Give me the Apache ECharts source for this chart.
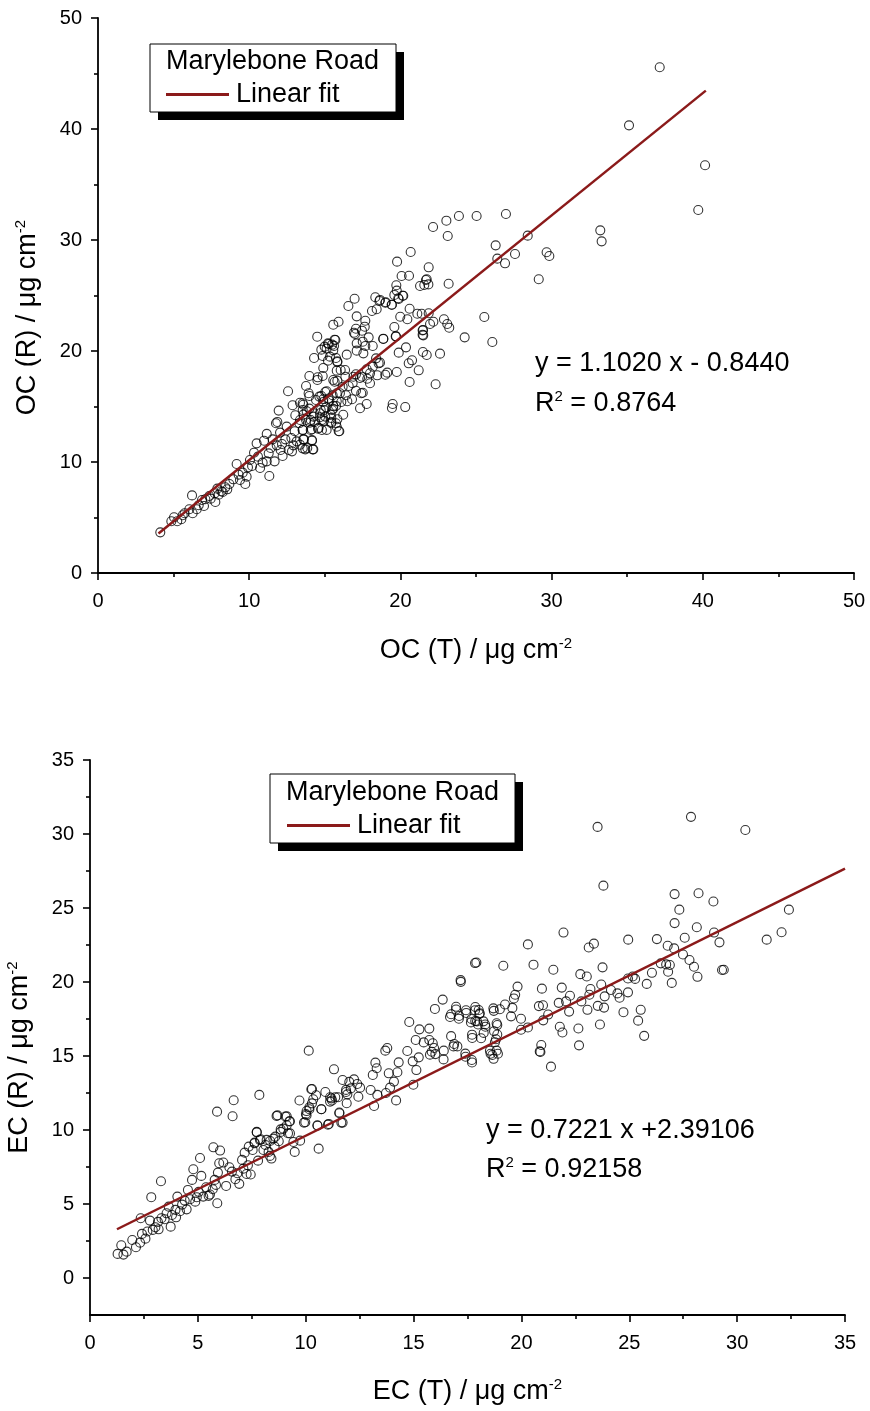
<!DOCTYPE html>
<html>
<head>
<meta charset="utf-8">
<script src="https://cdn.jsdelivr.net/npm/echarts@6/dist/echarts.min.js"></script>
<style>
  html, body { margin: 0; padding: 0; background: #fff; }
  #chart { width: 870px; height: 1411px; }
</style>
</head>
<body>
<div id="chart"></div>
<script>
// OC: thermal (T) vs reflectance (R) organic carbon, µg cm-2
const ocPoints = [
  [4.12,3.66],[4.85,4.66],[5.03,5.02],[5.24,4.66],[5.51,4.84],[5.6,5.2],[5.73,5.38],[6.04,5.74],[6.22,6.99],[6.26,5.38],
  [6.53,5.74],[6.66,6.10],[6.88,6.58],[7.01,6.04],[7.10,6.64],[7.36,6.94],[7.45,6.70],[7.72,7.18],[7.76,6.40],[7.89,7.60],
  [7.98,7.06],[8.16,7.36],[8.25,7.30],[8.42,7.72],[8.55,7.54],[8.69,8.02],[8.95,8.44],[9.17,9.82],[9.30,8.86],[9.39,8.38],
  [9.57,9.04],[9.74,8.02],[9.83,8.68],[9.92,9.52],[10.05,10.18],[10.19,9.64],[10.32,10.84],[10.49,11.68],[10.58,10.48],[10.72,9.46],
  [10.89,9.94],[10.98,11.92],[11.16,10.06],[11.16,12.53],[11.29,10.78],[11.33,8.74],[11.42,11.26],[11.55,12.04],[11.68,10.06],[11.77,13.49],
  [11.82,11.50],[11.86,13.61],[11.95,14.63],[12.04,12.65],[12.08,11.08],[12.17,11.62],[12.21,10.54],[12.39,12.04],[12.48,13.19],[12.57,16.37],
  [12.61,11.08],[12.79,12.16],[12.83,10.96],[12.87,15.11],[12.92,11.50],[13.01,12.77],[13.05,14.21],[13.14,11.86],[13.32,13.49],[13.36,11.56],
  [13.54,15.29],[13.54,12.89],[13.58,14.27],[13.62,12.04],[13.71,11.14],[13.76,16.85],[13.93,16.19],[13.98,14.81],[14.02,13.55],[14.07,12.89],
  [14.15,11.92],[14.20,11.14],[14.24,14.09],[14.33,13.61],[14.42,15.59],[14.51,17.39],[14.59,13.07],[14.68,14.39],[14.77,15.95],[14.81,13.79],
  [14.90,15.41],[14.95,14.69],[15.03,14.09],[15.12,12.89],[15.26,15.71],[15.39,14.27],[15.43,13.61],[15.56,17.39],[15.56,15.05],[15.79,16.19],
  [15.83,13.85],[15.92,12.77],
  [14.50,21.29],[15.65,21.02],[15.26,20.63],[15.48,20.57],[14.77,20.12],[15.12,20.21],[15.56,20.06],[14.29,19.37],[14.86,19.55],[15.34,19.49],
  [15.21,19.13],[15.83,19.07],[15.74,19.37],[17.00,21.53],[17.46,21.83],[17.90,21.23],[17.11,20.69],[17.51,20.84],[17.68,20.45],[18.17,20.45],
  [17.11,20.03],[17.55,19.79],[16.45,19.67],[18.87,21.11],[19.71,21.32],[21.47,21.47],[21.50,21.89],[24.25,21.23],[26.08,20.81],[20.37,20.33],
  [19.89,19.85],[21.49,19.91],[21.74,19.64],[22.62,19.76],[18.39,19.34],[18.56,18.89],[18.17,18.59],[20.77,19.16],[20.55,18.89],[17.77,18.35],
  [17.99,17.99],[17.46,17.68],[17.81,17.50],[17.99,17.09],[18.47,17.81],[19.13,18.05],[19.76,18.11],[19.00,17.86],[21.21,18.26],[20.61,17.21],
  [22.33,17.00],[16.05,18.29],[16.34,18.29],[17.06,17.90],[16.89,17.68],[17.33,17.57],[13.98,17.75],[14.53,17.63],[15.65,17.23],[15.83,17.32],
  [13.98,15.95],[16.18,16.78],[16.58,16.85],[16.84,17.09],[15.03,16.31],[15.12,16.37],[15.52,16.01],[16.00,16.19],[16.40,16.01],[17.06,16.42],
  [17.41,16.19],[17.51,16.24],[14.64,15.89],[14.90,15.65],[15.30,15.52],[15.79,15.47],[16.09,15.41],[16.49,15.47],[16.80,15.65],[17.77,15.23],
  [17.33,14.84],[19.49,15.23],[19.44,14.86],[20.32,14.95],[13.36,15.34],[13.58,15.16],[13.54,14.68],[13.80,14.57],[14.29,14.39],[14.73,14.68],
  [15.08,14.93],[15.48,14.68],[15.56,14.80],[15.74,15.05],[16.22,14.26],[14.68,14.03],[14.95,13.72],[15.43,13.96],[15.43,13.49],[15.74,13.49],
  [15.96,12.77],[15.79,13.18],[13.36,13.78],[13.76,13.78],[14.07,13.78],[14.15,12.95],[14.55,13.00],[14.81,12.88],[13.54,12.88],[13.58,12.04],
  [14.15,11.98],[13.54,11.23],[13.84,11.26],[14.24,11.14],
  [19.76,25.44],[18.34,24.84],[18.61,24.50],[19.00,24.35],[19.44,24.17],[19.89,24.68],[20.19,24.98],[16.97,24.71],[16.56,24.05],[18.12,23.60],
  [18.43,23.76],[17.11,23.12],[15.91,22.64],[15.56,22.37],[17.68,22.73],[17.64,22.19],[17.06,22.00],[16.93,21.65],[15.70,20.99],[15.61,20.46],
  [14.90,18.47],[14.86,17.75],[14.99,20.39],[15.21,20.69],[15.83,19.01],[15.79,18.23],[16.36,17.68],
  [22.16,31.17],[23.04,31.74],[23.87,32.16],[25.04,32.16],[26.98,32.34],[23.13,30.36],[26.30,29.52],[28.42,30.39],[26.41,28.32],[26.92,27.90],
  [27.58,28.74],[29.67,28.90],[29.85,28.56],[29.15,26.46],[20.68,28.92],[19.78,28.05],[20.08,26.76],[20.57,26.78],[21.87,27.54],[21.74,26.46],
  [21.30,25.86],[21.58,25.95],[21.85,26.00],[23.19,26.06],[19.73,25.92],[19.60,25.05],[20.15,24.98],[19.86,24.75],[18.65,24.60],[19.03,24.39],
  [19.42,24.17],[20.61,23.81],[21.12,23.36],[21.41,23.36],[21.87,23.40],[19.99,23.09],[20.46,22.86],[22.88,22.86],[23.10,22.43],[23.23,22.10],
  [22.18,22.64],[21.96,22.43],[25.55,23.06],[19.60,22.16],[21.47,21.86],[21.51,21.41],[19.69,21.32],[18.87,21.08],[21.69,26.40],[18.65,18.95],
  [37.15,45.56],[35.12,40.33],[40.15,36.73],[39.70,32.70],[33.22,30.87],[33.31,29.88]
];

// EC: thermal (T) vs reflectance (R) elemental carbon, µg cm-2
const ecPoints = [
  [1.28,1.63],[1.45,2.21],[1.70,1.78],[1.55,1.58],[1.96,2.57],[2.13,2.08],[2.32,2.39],[2.41,2.98],[2.57,2.66],[2.66,3.14],
  [2.78,3.88],[2.91,3.25],[3.03,3.43],[3.15,3.79],[3.18,3.29],[3.31,4.04],[3.46,3.97],[3.55,4.37],[3.65,4.82],[3.74,3.47],
  [3.80,4.26],[3.96,4.60],[3.99,4.10],[4.05,5.50],[4.17,4.51],[4.27,4.96],[4.39,5.23],[4.48,4.64],[4.54,5.95],[4.64,5.32],
  [4.73,6.63],[4.79,7.35],[4.88,5.16],[4.95,5.46],[5.04,5.82],[5.10,8.11],[5.16,6.90],[5.25,5.50],[5.38,6.13],[5.50,5.55],
  [5.56,5.64],[5.69,6.00],[5.72,8.83],[5.78,6.63],[5.84,6.29],[5.90,5.05],[5.93,7.12],[5.99,7.75],[6.03,8.61],[6.18,7.80],
  [6.31,6.22],[6.46,7.48],[6.58,7.19],[6.74,6.67],[6.83,7.08],[6.92,6.36],[7.05,7.98],[7.11,7.39],[7.17,8.47],[7.26,7.03],
  [7.32,7.62],[7.36,8.88],[7.45,6.99],[7.54,8.65],[7.63,9.15],[7.73,9.87],[7.79,7.93],[7.91,9.37],[8.04,8.65],[8.19,9.33],
  [8.28,8.52],[8.34,8.25],[8.41,8.07],[8.50,9.42],[8.56,8.88],[8.65,10.95],[8.75,9.24],[8.84,9.87],[8.96,10.09],[9.06,10.91],
  [9.12,10.32],[9.18,9.78],[9.27,10.59],[9.43,9.19],[9.49,8.52],[9.74,9.28],[9.71,11.99],[9.92,10.50],[10.04,11.00],[10.17,11.40],
  [10.26,12.75],[10.35,12.08],[10.48,12.35],[10.54,10.32],[10.60,8.74],[10.73,11.40],[10.91,12.57],[11.03,10.36],[11.13,12.21],[11.22,11.99],
  [11.50,12.21],[11.56,11.18],[11.65,10.50],[11.71,13.38],[11.87,12.71],[11.90,11.81],[12.02,13.25],[6.66,12.01],[5.89,11.24],[6.61,10.93],
  [3.29,6.54],[2.84,5.46],[2.35,4.04],[7.85,12.37],[10.14,15.36],[11.31,14.10],
  [16.35,18.81],[15.99,18.18],[16.97,18.33],[16.74,17.82],[17.11,17.70],[17.43,18.09],[17.68,17.50],[17.86,18.31],[18.02,18.11],[18.05,17.84],
  [17.94,17.34],[18.24,17.34],[18.33,16.98],[18.70,18.22],[18.85,17.21],[18.73,16.67],[18.82,16.13],[18.54,15.36],[18.85,15.36],[18.65,15.07],
  [17.71,16.44],[17.40,15.16],[17.70,14.73],[16.88,15.81],[16.40,15.36],[16.39,14.77],[14.80,17.30],[15.27,16.80],[15.73,16.85],[15.10,16.08],
  [15.47,15.92],[15.73,16.08],[15.89,15.86],[15.95,15.54],[15.84,15.29],[16.01,15.13],[15.76,15.09],[14.71,15.34],[15.24,14.91],[14.96,14.64],
  [15.13,14.05],[14.99,13.06],[14.31,14.57],[13.85,13.83],[14.25,13.90],[14.09,13.27],[13.29,14.17],[13.23,14.55],[13.11,13.72],[13.01,12.70],
  [13.32,12.37],[13.72,12.50],[13.91,12.86],[14.19,12.00],[13.17,11.62],[12.44,12.25],[12.52,12.86],[12.24,13.42],[12.39,13.11],[12.09,12.81],
  [11.93,12.41],[11.87,12.57],[11.37,12.21],[11.13,11.92],[11.19,12.14],[10.29,12.77],[10.29,11.80],[10.17,11.53],[10.04,11.28],[10.01,11.08],
  [10.72,11.40],[10.55,10.29],[11.07,10.41],[11.56,11.13],[11.71,10.50],[9.98,10.52],[9.24,10.58],[9.12,10.92],[9.27,9.77],[8.84,10.04],
  [8.69,10.99],[8.59,9.55],[8.35,9.26],[8.13,8.99],[7.88,9.32],[7.73,9.84],[7.63,9.10],[13.69,15.36],[13.78,15.54],[17.18,20.13],
  [17.85,21.28],[17.91,21.32],
  [27.86,31.16],[30.38,30.27],[23.53,30.48],[23.80,26.51],[27.10,25.94],[28.21,26.00],[27.32,24.89],[28.90,25.44],[32.40,24.89],[27.10,23.98],
  [28.13,23.70],[28.93,23.34],[32.06,23.36],[31.37,22.86],[29.18,22.68],[26.28,22.90],[27.57,22.99],[26.78,22.45],[27.08,22.27],[27.49,21.86],
  [27.79,21.49],[28.00,21.03],[28.16,20.35],[29.30,20.81],[29.38,20.83],[26.46,21.26],[26.71,21.19],[26.88,21.15],[26.80,20.69],[26.97,19.94],
  [26.05,20.62],[25.81,19.87],[24.95,22.86],[24.94,20.24],[25.16,20.37],[25.27,20.21],[24.94,19.30],[24.73,17.96],[25.53,18.12],[25.41,17.39],
  [25.69,16.36],[23.76,20.99],[23.70,19.83],[23.20,19.53],[23.15,19.14],[23.03,20.37],[22.73,20.53],[23.12,22.33],[23.36,22.59],[24.15,19.46],
  [24.45,19.23],[24.55,18.94],[23.86,19.03],[23.54,18.39],[23.83,18.27],[23.06,18.12],[22.78,18.69],[23.64,17.13],[22.64,16.86],[22.67,15.72],
  [21.95,23.34],[21.48,20.83],[21.87,19.62],[22.25,19.07],[22.07,18.69],[21.73,18.59],[22.21,18.00],[21.78,16.98],[21.90,16.59],[21.37,14.28],
  [20.85,15.31],[20.92,15.74],[20.88,15.27],[21.24,17.80],[21.01,17.41],[20.95,19.55],[21.00,18.43],[20.81,18.37],[20.56,21.17],[20.30,22.54],
  [19.16,21.10],[17.19,20.01],[19.71,19.14],[19.82,19.69],[19.65,18.89],[19.58,18.25],[19.24,18.48],[19.00,18.16],[18.72,18.05],[19.52,17.68],
  [19.98,17.52],[19.98,16.77],[20.30,16.93],[18.88,17.09],[18.88,16.45],[18.77,15.93],[18.57,15.15],[18.91,15.15],[18.71,14.81],[18.25,16.56],
  [18.32,17.13],[18.13,16.20],[17.72,16.22],[17.99,17.13],[17.66,17.27],[17.85,18.09],[18.07,17.89],[17.44,17.91],[16.97,18.14],[17.10,17.52],
  [16.69,17.64],[16.74,16.34],[16.85,15.65],[17.03,15.65],[17.41,14.95],[17.71,14.56],[17.86,17.36]
];

// Linear fits: [slope, intercept] and the x span they cover
const ocFit = [1.1020, -0.8440];
const ocFitRange = [4.0, 40.2];
const ecFit = [0.7221, 2.39106];
const ecFitRange = [1.25, 35];

// Axis tick values
const ocTicks = [0, 10, 20, 30, 40, 50];
const ecTicks = [0, 5, 10, 15, 20, 25, 30, 35];
const ecMinorTicks = [2.5, 7.5, 12.5, 17.5, 22.5, 27.5, 32.5];

// Labels
const siteName = 'Marylebone Road';
const fitName = 'Linear fit';
const ocEquation = ['y = 1.1020 x - 0.8440', '0.8764'];
const ecEquation = ['y = 0.7221 x +2.39106', '0.92158'];

const FONT = '"Liberation Sans", Arial, sans-serif';
const BIG = 27;
const FIT_COLOR = '#8b1a1a';

function fitLine(coef, range) {
  return range.map(x => [x, coef[0] * x + coef[1]]);
}

const axisLineStyle = { color: '#000', width: 1.8 };
const tickStyle = { color: '#000', width: 1.6 };
const labelStyle = { fontFamily: FONT, fontSize: 20, color: '#000' };

function axisName(text) {
  return '{t|' + text + '}{s|-2}';
}
function nameStyle(pad) {
  return {
    fontFamily: FONT, color: '#000', padding: pad,
    rich: {
      t: { fontFamily: FONT, fontSize: BIG, color: '#000' },
      s: { fontFamily: FONT, fontSize: 15, color: '#000', padding: [0, 0, 15, 0] }
    }
  };
}

const chart = echarts.init(document.getElementById('chart'), null, { renderer: 'canvas' });

const scatterStyle = {
  symbol: 'circle',
  symbolSize: 9,
  itemStyle: { color: 'rgba(255,255,255,0)', borderColor: '#000', borderWidth: 1.1 }
};

function legendBox(x, y, w, h) {
  return [
    { type: 'rect', shape: { x: x + 8, y: y + 8, width: w, height: h }, style: { fill: '#000' }, z: 10 },
    { type: 'rect', shape: { x: x, y: y, width: w, height: h }, style: { fill: '#fff', stroke: '#000', lineWidth: 1 }, z: 11 }
  ];
}

function textEl(x, y, text, rich) {
  return {
    type: 'text', x: x, y: y, z: 20,
    style: { text: text, fontFamily: FONT, fontSize: BIG, fill: '#000', verticalAlign: 'middle', align: 'left', rich: rich }
  };
}

const r2Rich = {
  a: { fontFamily: FONT, fontSize: BIG, color: '#000' },
  s: { fontFamily: FONT, fontSize: 15, color: '#000', padding: [0, 0, 15, 0] }
};

const legendCommon = {
  data: [fitName], padding: 0, itemWidth: 63, itemHeight: 3, itemGap: 0, icon: 'rect',
  textStyle: { fontFamily: FONT, fontSize: BIG, color: '#000', padding: [0, 0, 0, 2] },
  z: 30, selectedMode: false
};

const option = {
  animation: false,
  backgroundColor: '#fff',
  grid: [
    { left: 98, top: 18, width: 756, height: 555, outerBoundsMode: 'none', containLabel: false },
    { left: 90, top: 760, width: 755, height: 555, outerBoundsMode: 'none', containLabel: false }
  ],
  xAxis: [
    {
      gridIndex: 0, type: 'value', min: 0, max: 50, interval: 10,
      axisLine: { show: true, onZero: false, lineStyle: axisLineStyle },
      axisTick: { show: true, length: 7, lineStyle: tickStyle },
      minorTick: { show: true, splitNumber: 2, length: 4, lineStyle: tickStyle },
      axisLabel: Object.assign({ margin: 18, customValues: ocTicks }, labelStyle),
      splitLine: { show: false },
      name: axisName('OC (T) / μg cm'), nameLocation: 'middle', nameGap: 63, nameTextStyle: nameStyle(0)
    },
    {
      gridIndex: 1, type: 'value', min: 0, max: 35, interval: 5,
      axisLine: { show: true, onZero: false, lineStyle: axisLineStyle },
      axisTick: { show: true, length: 7, lineStyle: tickStyle },
      minorTick: { show: true, splitNumber: 2, length: 4, lineStyle: tickStyle },
      axisLabel: Object.assign({ margin: 18, customValues: ecTicks }, labelStyle),
      splitLine: { show: false },
      name: axisName('EC (T) / μg cm'), nameLocation: 'middle', nameGap: 62, nameTextStyle: nameStyle(0)
    }
  ],
  yAxis: [
    {
      gridIndex: 0, type: 'value', min: 0, max: 50, interval: 10, position: 'left',
      axisLine: { show: true, onZero: false, lineStyle: axisLineStyle },
      axisTick: { show: true, length: 7, lineStyle: tickStyle },
      minorTick: { show: true, splitNumber: 2, length: 4, lineStyle: tickStyle },
      axisLabel: Object.assign({ margin: 16 }, labelStyle),
      splitLine: { show: false },
      name: axisName('OC (R) / μg cm'), nameLocation: 'middle', nameGap: 55, nameRotate: 90,
      nameTextStyle: nameStyle([0, 44, 0, 0])
    },
    {
      gridIndex: 1, type: 'value', min: -2.5, max: 35, position: 'left',
      axisLine: { show: true, onZero: false, lineStyle: axisLineStyle },
      axisTick: { show: true, length: 7, lineStyle: tickStyle, customValues: ecTicks },
      axisLabel: Object.assign({ margin: 16, customValues: ecTicks }, labelStyle),
      splitLine: { show: false },
      name: axisName('EC (R) / μg cm'), nameLocation: 'middle', nameGap: 55, nameRotate: 90,
      nameTextStyle: nameStyle([0, 40, 0, 0])
    },
    {
      gridIndex: 1, type: 'value', min: -2.5, max: 35, position: 'left',
      axisLine: { show: false, onZero: false },
      axisTick: { show: true, length: 4, lineStyle: tickStyle, customValues: ecMinorTicks },
      axisLabel: { show: false, customValues: ecMinorTicks },
      splitLine: { show: false }
    }
  ],
  legend: [
    Object.assign({ left: 166, top: 81 }, legendCommon),
    Object.assign({ left: 287, top: 812 }, legendCommon)
  ],
  graphic: [
    ...legendBox(150, 44, 246, 68),
    textEl(166, 62, siteName),
    ...legendBox(270, 774, 245, 69),
    textEl(286, 793, siteName),
    textEl(535, 364, ocEquation[0]),
    textEl(535, 404, '{a|R}{s|2}{a| = ' + ocEquation[1] + '}', r2Rich),
    textEl(486, 1131, ecEquation[0]),
    textEl(486, 1170, '{a|R}{s|2}{a| = ' + ecEquation[1] + '}', r2Rich)
  ],
  series: [
    Object.assign({ type: 'scatter', name: siteName, xAxisIndex: 0, yAxisIndex: 0, data: ocPoints, z: 2 }, scatterStyle),
    {
      type: 'line', name: fitName, xAxisIndex: 0, yAxisIndex: 0, data: fitLine(ocFit, ocFitRange),
      symbol: 'none', lineStyle: { color: FIT_COLOR, width: 2.5 }, itemStyle: { color: FIT_COLOR }, z: 3
    },
    Object.assign({ type: 'scatter', name: siteName, xAxisIndex: 1, yAxisIndex: 1, data: ecPoints, z: 2 }, scatterStyle),
    {
      type: 'line', name: fitName, xAxisIndex: 1, yAxisIndex: 1, data: fitLine(ecFit, ecFitRange),
      symbol: 'none', lineStyle: { color: FIT_COLOR, width: 2.5 }, itemStyle: { color: FIT_COLOR }, z: 3
    }
  ]
};

chart.setOption(option);
</script>
</body>
</html>
